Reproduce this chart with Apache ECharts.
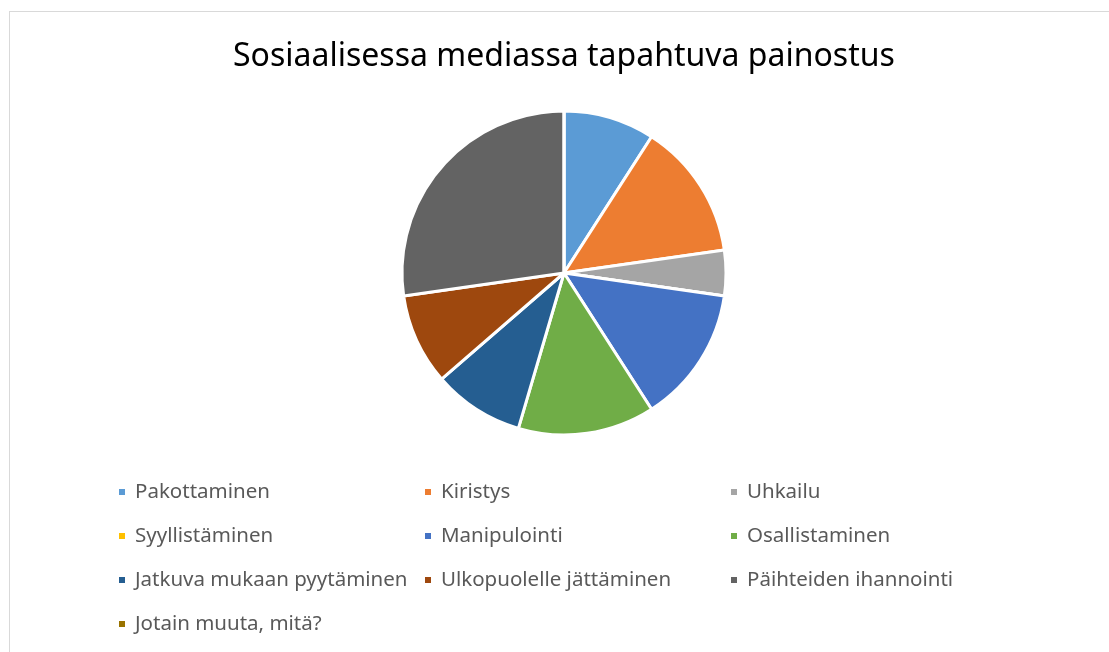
<!DOCTYPE html>
<html>
<head>
<meta charset="utf-8">
<script src="https://cdn.jsdelivr.net/npm/echarts@6/dist/echarts.min.js"></script>
<style>
  html, body { margin: 0; padding: 0; background: #fff; }
  #chart { width: 1109px; height: 652px; }
  .frame { position: absolute; left: 9px; top: 11px; width: 1120px; height: 700px; border: 1px solid #d9d9d9; pointer-events: none; }
</style>
</head>
<body>
<div class="frame"></div>
<div id="chart"></div>
<script>
const titleText = 'Sosiaalisessa mediassa tapahtuva painostus'

const categories = [
  'Pakottaminen',
  'Kiristys',
  'Uhkailu',
  'Syyllistäminen',
  'Manipulointi',
  'Osallistaminen',
  'Jatkuva mukaan pyytäminen',
  'Ulkopuolelle jättäminen',
  'Päihteiden ihannointi',
  'Jotain muuta, mitä?',
]

const counts = [2, 3, 1, 0, 3, 3, 2, 2, 6, 0]

const colors = [
  '#5b9bd5',
  '#ed7d31',
  '#a5a5a5',
  '#ffc000',
  '#4472c4',
  '#70ad47',
  '#255e91',
  '#9e480e',
  '#636363',
  '#997300',
]

// legend columns
const legendColumns = [
  [0, 3, 6, 9],
  [1, 4, 7],
  [2, 5, 8],
]
const legendLeft = [112, 418, 724]

const chart = echarts.init(document.getElementById('chart'))

const legendStyle = {
  color: '#595959',
  fontSize: 20.5,
  fontFamily: 'Noto Sans',
  lineHeight: 22,
  padding: [0, 0, 0, 4],
}

chart.setOption({
  color: colors,
  animation: false,
  title: {
    text: titleText,
    left: 228,
    top: 36,
    textStyle: {
      color: '#000',
      fontSize: 32,
      fontWeight: 'normal',
      fontFamily: 'Noto Sans',
    },
  },
  legend: legendColumns.map((col, i) => ({
    orient: 'vertical',
    left: legendLeft[i],
    top: 476,
    icon: 'rect',
    itemWidth: 8,
    itemHeight: 8,
    itemGap: 22,
    selectedMode: false,
    textStyle: legendStyle,
    data: col.map((k) => categories[k]),
  })),
  series: [
    {
      type: 'pie',
      center: [564, 273],
      radius: 162,
      startAngle: 90,
      clockwise: true,
      label: { show: false },
      labelLine: { show: false },
      emphasis: { disabled: true },
      itemStyle: {
        borderColor: '#fff',
        borderWidth: 3,
      },
      data: categories.map((name, i) => ({ name, value: counts[i] })),
    },
  ],
})
</script>
</body>
</html>
